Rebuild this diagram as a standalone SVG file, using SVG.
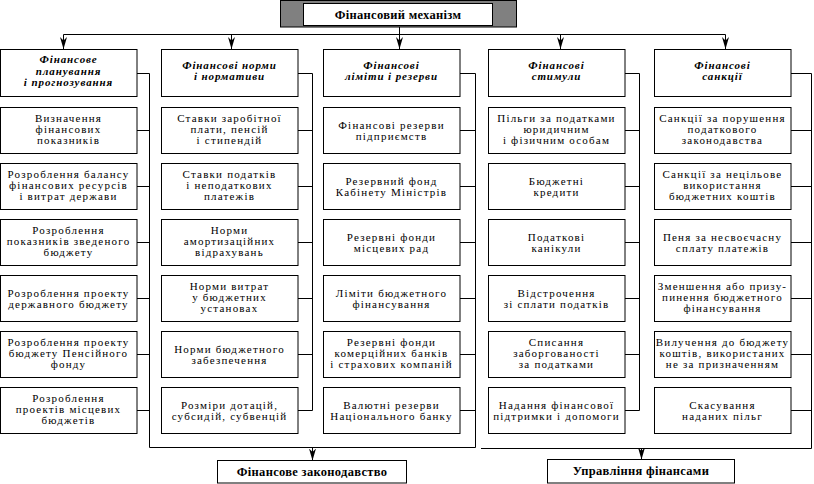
<svg xmlns="http://www.w3.org/2000/svg" width="814" height="484" viewBox="0 0 814 484" font-family="'Liberation Serif', 'Times New Roman', serif">
<style>
.box{fill:#fff;stroke:#000;stroke-width:1}
.gray{fill:#808080;stroke:#000;stroke-width:1}
.hd{font-family:'Liberation Serif','Times New Roman',serif;font-size:11px;letter-spacing:0.9px;font-weight:bold;font-style:italic;text-anchor:middle;fill:#000}
.it{font-family:'Liberation Serif','Times New Roman',serif;font-size:11px;letter-spacing:1.2px;text-anchor:middle;fill:#000}
.tb{font-family:'Liberation Serif','Times New Roman',serif;font-size:12.5px;letter-spacing:0.3px;font-weight:bold;text-anchor:middle;fill:#000}
.ln{stroke:#000;stroke-width:1;fill:none}
.ar{stroke:#000;stroke-width:1;fill:none;marker-end:url(#ah)}
</style>
<defs>
<marker id="ah" markerUnits="userSpaceOnUse" viewBox="0 0 13 8" markerWidth="13" markerHeight="8" refX="12" refY="4" orient="auto">
<path d="M0,0.5 L12,4 L0,7.5 L3.5,4 Z" fill="#000"/>
</marker>
</defs>

<g id="connectors">
<line class="ln" x1="63.5" y1="34.5" x2="725.5" y2="34.5"/>
<line class="ar" x1="63.5" y1="34.5" x2="63.5" y2="49"/>
<line class="ar" x1="231.5" y1="34.5" x2="231.5" y2="49"/>
<line class="ar" x1="399.5" y1="27" x2="399.5" y2="49"/>
<line class="ar" x1="560.5" y1="34.5" x2="560.5" y2="49"/>
<line class="ar" x1="725.5" y1="34.5" x2="725.5" y2="49"/>
<path class="ln" d="M137,73.5 H149.5 V447.5 M137,130.5 H149.5 M137,186.5 H149.5 M137,242.5 H149.5 M137,298.5 H149.5 M137,354.5 H149.5 M137,410.5 H149.5"/>
<path class="ln" d="M298,73.5 H312.5 V410.5 M298,130.5 H312.5 M298,186.5 H312.5 M298,242.5 H312.5 M298,298.5 H312.5 M298,354.5 H312.5 M298,410.5 H312.5"/>
<path class="ln" d="M460,73.5 H475.5 V447.5 M460,130.5 H475.5 M460,186.5 H475.5 M460,242.5 H475.5 M460,298.5 H475.5 M460,354.5 H475.5 M460,410.5 H475.5"/>
<path class="ln" d="M625,73.5 H639.5 V410.5 M625,130.5 H639.5 M625,186.5 H639.5 M625,242.5 H639.5 M625,298.5 H639.5 M625,354.5 H639.5 M625,410.5 H639.5"/>
<path class="ln" d="M791,73.5 H811.5 V448.5 M791,130.5 H811.5 M791,186.5 H811.5 M791,242.5 H811.5 M791,298.5 H811.5 M791,354.5 H811.5 M791,410.5 H811.5"/>
<line class="ln" x1="149.5" y1="447.5" x2="475.5" y2="447.5"/>
<line class="ar" x1="312.5" y1="447.5" x2="312.5" y2="460.5"/>
<line class="ln" x1="481" y1="448.5" x2="811.5" y2="448.5"/>
<line class="ar" x1="641.5" y1="448.5" x2="641.5" y2="459.5"/>
</g>

<g id="top">
<rect class="gray" x="280.5" y="0.5" width="236" height="26.5"/>
<rect class="box" x="303.5" y="3.5" width="189" height="22"/>
<text class="tb" x="398" y="18.5">Фінансовий механізм</text>
</g>

<g id="col1-head">
<rect class="box" x="0.5" y="49.5" width="136.5" height="47"/>
<text class="hd" x="68.5" y="63">Фінансове</text>
<text class="hd" x="68.5" y="74.5">планування</text>
<text class="hd" x="68.5" y="86">і прогнозування</text>
</g>
<g id="col1-1">
<rect class="box" x="0.5" y="107.5" width="136.5" height="46"/>
<text class="it" x="68.5" y="121.5">Визначення</text>
<text class="it" x="68.5" y="132.5">фінансових</text>
<text class="it" x="68.5" y="143.5">показників</text>
</g>
<g id="col1-2">
<rect class="box" x="0.5" y="163.5" width="136.5" height="46"/>
<text class="it" x="68.5" y="177.5">Розроблення балансу</text>
<text class="it" x="68.5" y="188.5">фінансових ресурсів</text>
<text class="it" x="68.5" y="199.5">і витрат держави</text>
</g>
<g id="col1-3">
<rect class="box" x="0.5" y="219.5" width="136.5" height="46"/>
<text class="it" x="68.5" y="233.5">Розроблення</text>
<text class="it" x="68.5" y="244.5">показників зведеного</text>
<text class="it" x="68.5" y="255.5">бюджету</text>
</g>
<g id="col1-4">
<rect class="box" x="0.5" y="275.5" width="136.5" height="46"/>
<text class="it" x="68.5" y="296.5">Розроблення проекту</text>
<text class="it" x="68.5" y="307.5">державного бюджету</text>
</g>
<g id="col1-5">
<rect class="box" x="0.5" y="331.5" width="136.5" height="46"/>
<text class="it" x="68.5" y="345.5">Розроблення проекту</text>
<text class="it" x="68.5" y="356.5">бюджету Пенсійного</text>
<text class="it" x="68.5" y="367.5">фонду</text>
</g>
<g id="col1-6">
<rect class="box" x="0.5" y="387.5" width="136.5" height="46"/>
<text class="it" x="68.5" y="401.5">Розроблення</text>
<text class="it" x="68.5" y="412.5">проектів місцевих</text>
<text class="it" x="68.5" y="423.5">бюджетів</text>
</g>

<g id="col2-head">
<rect class="box" x="161.5" y="49.5" width="136.5" height="47"/>
<text class="hd" x="229.5" y="68.5">Фінансові норми</text>
<text class="hd" x="229.5" y="80">і нормативи</text>
</g>
<g id="col2-1">
<rect class="box" x="161.5" y="107.5" width="136.5" height="46"/>
<text class="it" x="229.5" y="121.5">Ставки заробітної</text>
<text class="it" x="229.5" y="132.5">плати, пенсій</text>
<text class="it" x="229.5" y="143.5">і стипендій</text>
</g>
<g id="col2-2">
<rect class="box" x="161.5" y="163.5" width="136.5" height="46"/>
<text class="it" x="229.5" y="177.5">Ставки податків</text>
<text class="it" x="229.5" y="188.5">і неподаткових</text>
<text class="it" x="229.5" y="199.5">платежів</text>
</g>
<g id="col2-3">
<rect class="box" x="161.5" y="219.5" width="136.5" height="46"/>
<text class="it" x="229.5" y="233.5">Норми</text>
<text class="it" x="229.5" y="244.5">амортизаційних</text>
<text class="it" x="229.5" y="255.5">відрахувань</text>
</g>
<g id="col2-4">
<rect class="box" x="161.5" y="275.5" width="136.5" height="46"/>
<text class="it" x="229.5" y="289.5">Норми витрат</text>
<text class="it" x="229.5" y="300.5">у бюджетних</text>
<text class="it" x="229.5" y="311.5">установах</text>
</g>
<g id="col2-5">
<rect class="box" x="161.5" y="331.5" width="136.5" height="46"/>
<text class="it" x="229.5" y="352.5">Норми бюджетного</text>
<text class="it" x="229.5" y="363.5">забезпечення</text>
</g>
<g id="col2-6">
<rect class="box" x="161.5" y="387.5" width="136.5" height="46"/>
<text class="it" x="229.5" y="408.5">Розміри дотацій,</text>
<text class="it" x="229.5" y="419.5">субсидій, субвенцій</text>
</g>

<g id="col3-head">
<rect class="box" x="323.5" y="49.5" width="136.5" height="47"/>
<text class="hd" x="391.5" y="68.5">Фінансові</text>
<text class="hd" x="391.5" y="80">ліміти і резерви</text>
</g>
<g id="col3-1">
<rect class="box" x="323.5" y="107.5" width="136.5" height="46"/>
<text class="it" x="391.5" y="128.5">Фінансові резерви</text>
<text class="it" x="391.5" y="139.5">підприємств</text>
</g>
<g id="col3-2">
<rect class="box" x="323.5" y="163.5" width="136.5" height="46"/>
<text class="it" x="391.5" y="184.5">Резервний фонд</text>
<text class="it" x="391.5" y="195.5">Кабінету Міністрів</text>
</g>
<g id="col3-3">
<rect class="box" x="323.5" y="219.5" width="136.5" height="46"/>
<text class="it" x="391.5" y="240.5">Резервні фонди</text>
<text class="it" x="391.5" y="251.5">місцевих рад</text>
</g>
<g id="col3-4">
<rect class="box" x="323.5" y="275.5" width="136.5" height="46"/>
<text class="it" x="391.5" y="296.5">Ліміти бюджетного</text>
<text class="it" x="391.5" y="307.5">фінансування</text>
</g>
<g id="col3-5">
<rect class="box" x="323.5" y="331.5" width="136.5" height="46"/>
<text class="it" x="391.5" y="345.5">Резервні фонди</text>
<text class="it" x="391.5" y="356.5">комерційних банків</text>
<text class="it" x="391.5" y="367.5">і страхових компаній</text>
</g>
<g id="col3-6">
<rect class="box" x="323.5" y="387.5" width="136.5" height="46"/>
<text class="it" x="391.5" y="408.5">Валютні резерви</text>
<text class="it" x="391.5" y="419.5">Національного банку</text>
</g>

<g id="col4-head">
<rect class="box" x="488.5" y="49.5" width="136.5" height="47"/>
<text class="hd" x="556.5" y="68.5">Фінансові</text>
<text class="hd" x="556.5" y="80">стимули</text>
</g>
<g id="col4-1">
<rect class="box" x="488.5" y="107.5" width="136.5" height="46"/>
<text class="it" x="556.5" y="121.5">Пільги за податками</text>
<text class="it" x="556.5" y="132.5">юридичним</text>
<text class="it" x="556.5" y="143.5">і фізичним особам</text>
</g>
<g id="col4-2">
<rect class="box" x="488.5" y="163.5" width="136.5" height="46"/>
<text class="it" x="556.5" y="184.5">Бюджетні</text>
<text class="it" x="556.5" y="195.5">кредити</text>
</g>
<g id="col4-3">
<rect class="box" x="488.5" y="219.5" width="136.5" height="46"/>
<text class="it" x="556.5" y="240.5">Податкові</text>
<text class="it" x="556.5" y="251.5">канікули</text>
</g>
<g id="col4-4">
<rect class="box" x="488.5" y="275.5" width="136.5" height="46"/>
<text class="it" x="556.5" y="296.5">Відстрочення</text>
<text class="it" x="556.5" y="307.5">зі сплати податків</text>
</g>
<g id="col4-5">
<rect class="box" x="488.5" y="331.5" width="136.5" height="46"/>
<text class="it" x="556.5" y="345.5">Списання</text>
<text class="it" x="556.5" y="356.5">заборгованості</text>
<text class="it" x="556.5" y="367.5">за податками</text>
</g>
<g id="col4-6">
<rect class="box" x="488.5" y="387.5" width="136.5" height="46"/>
<text class="it" x="556.5" y="408.5">Надання фінансової</text>
<text class="it" x="556.5" y="419.5">підтримки і допомоги</text>
</g>

<g id="col5-head">
<rect class="box" x="654.5" y="49.5" width="136.5" height="47"/>
<text class="hd" x="722.5" y="68.5">Фінансові</text>
<text class="hd" x="722.5" y="80">санкції</text>
</g>
<g id="col5-1">
<rect class="box" x="654.5" y="107.5" width="136.5" height="46"/>
<text class="it" x="722.5" y="121.5">Санкції за порушення</text>
<text class="it" x="722.5" y="132.5">податкового</text>
<text class="it" x="722.5" y="143.5">законодавства</text>
</g>
<g id="col5-2">
<rect class="box" x="654.5" y="163.5" width="136.5" height="46"/>
<text class="it" x="722.5" y="177.5">Санкції за нецільове</text>
<text class="it" x="722.5" y="188.5">використання</text>
<text class="it" x="722.5" y="199.5">бюджетних коштів</text>
</g>
<g id="col5-3">
<rect class="box" x="654.5" y="219.5" width="136.5" height="46"/>
<text class="it" x="722.5" y="240.5">Пеня за несвоєчасну</text>
<text class="it" x="722.5" y="251.5">сплату платежів</text>
</g>
<g id="col5-4">
<rect class="box" x="654.5" y="275.5" width="136.5" height="46"/>
<text class="it" x="722.5" y="289.5">Зменшення або призу-</text>
<text class="it" x="722.5" y="300.5">пинення бюджетного</text>
<text class="it" x="722.5" y="311.5">фінансування</text>
</g>
<g id="col5-5">
<rect class="box" x="654.5" y="331.5" width="136.5" height="46"/>
<text class="it" x="722.5" y="345.5">Вилучення до бюджету</text>
<text class="it" x="722.5" y="356.5">коштів, використаних</text>
<text class="it" x="722.5" y="367.5">не за призначенням</text>
</g>
<g id="col5-6">
<rect class="box" x="654.5" y="387.5" width="136.5" height="46"/>
<text class="it" x="722.5" y="408.5">Скасування</text>
<text class="it" x="722.5" y="419.5">наданих пільг</text>
</g>

<g id="bottom-left">
<rect class="box" x="217.5" y="460.5" width="189" height="22.5"/>
<text class="tb" x="312" y="475.5">Фінансове законодавство</text>
</g>
<g id="bottom-right">
<rect class="box" x="547.5" y="459.5" width="187" height="23.5"/>
<text class="tb" x="641" y="475">Управління фінансами</text>
</g>
</svg>
